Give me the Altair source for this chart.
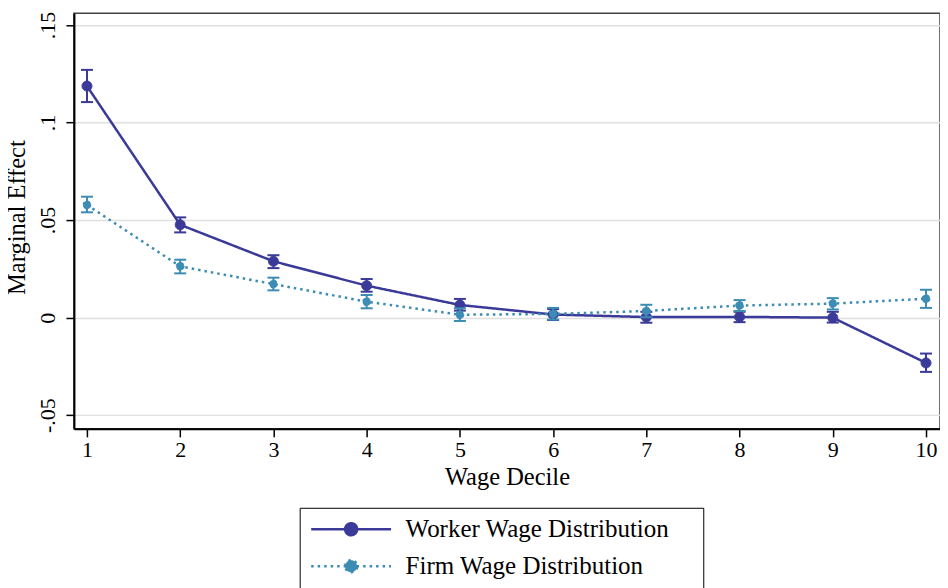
import altair as alt
import pandas as pd

deciles = [1, 2, 3, 4, 5, 6, 7, 8, 9, 10]
series_names = ["Worker Wage Distribution", "Firm Wage Distribution"]

worker_est = [0.1187, 0.0476, 0.0289, 0.0164, 0.0065, 0.0016, 0.0003, 0.0004, 0.0000, -0.0232]
worker_lo = [0.1105, 0.0437, 0.0254, 0.0133, 0.0036, -0.0012, -0.0026, -0.0023, -0.0025, -0.0278]
worker_hi = [0.1270, 0.0514, 0.0320, 0.0198, 0.0096, 0.0044, 0.0030, 0.0030, 0.0030, -0.0184]

firm_est = [0.0578, 0.0263, 0.0172, 0.0082, 0.0015, 0.0019, 0.0034, 0.0062, 0.0072, 0.0097]
firm_lo = [0.0540, 0.0227, 0.0140, 0.0048, -0.0017, -0.0010, 0.0002, 0.0034, 0.0042, 0.0050]
firm_hi = [0.0620, 0.0297, 0.0205, 0.0116, 0.0048, 0.0050, 0.0066, 0.0090, 0.0100, 0.0143]

y_ticks = [-0.05, 0, 0.05, 0.1, 0.15]

colors = ["#3b3a98", "#3d8cb4"]
dashes = [[1, 0], [2.5, 4]]
point_sizes = [100, 64]
FONT = "Liberation Serif"

rows = []
for i, d in enumerate(deciles):
    rows.append({"series": series_names[0], "decile": d,
                 "est": worker_est[i], "lo": worker_lo[i], "hi": worker_hi[i]})
for i, d in enumerate(deciles):
    rows.append({"series": series_names[1], "decile": d,
                 "est": firm_est[i], "lo": firm_lo[i], "hi": firm_hi[i]})
df = pd.DataFrame(rows)

x_scale = alt.Scale(domain=[0.86, 10.15], nice=False, zero=False)
y_scale = alt.Scale(domain=[-0.057, 0.156], nice=False, zero=False)

x_enc = alt.X("decile:Q", scale=x_scale,
              axis=alt.Axis(title="Wage Decile", values=deciles, format="d", grid=False,
                            tickSize=8, tickWidth=1.5, tickColor="black",
                            domainColor="black", domainWidth=2,
                            labelFont=FONT, labelFontSize=22, labelColor="black", labelPadding=3,
                            titleFont=FONT, titleFontSize=24.5, titleFontWeight="normal",
                            titleColor="black", titlePadding=5))
y_axis = alt.Axis(title="Marginal Effect", values=y_ticks,
                  labelExpr="datum.value == 0 ? '0' : replace(replace(format(datum.value, '.2~f'), '0.', '.'), '\u2212', '-')",
                  grid=True, gridColor="#e0e0e0", gridWidth=1.5,
                  tickSize=8, tickWidth=1.5, tickColor="black",
                  domainColor="black", domainWidth=2,
                  labelFont=FONT, labelFontSize=22, labelColor="black",
                  labelAngle=270, labelAlign="center", labelBaseline="bottom", labelPadding=6,
                  titleFont=FONT, titleFontSize=24.5, titleFontWeight="normal",
                  titleColor="black", titlePadding=7, titleY=204)

# symbol: 20px unit square (scale 10); line spans 80px, dot radius 6px
legend_path = "M-4,0L4,0M-0.6,0A0.6,0.6,0,1,1,0.6,0A0.6,0.6,0,1,1,-0.6,0Z"
leg = alt.Legend(title="\u00a0", titleOrient="right", titlePadding=25,
                 titleFont=FONT, titleFontSize=24,
                 orient="none", legendX=226, legendY=495,
                 symbolType=legend_path, symbolSize=400, symbolStrokeWidth=2.5,
                 symbolOffset=30, rowPadding=11, padding=9,
                 strokeColor="black", labelFont=FONT, labelFontSize=25, labelColor="black",
                 labelOffset=42, labelLimit=500)

stroke_enc = alt.Stroke("series:N", scale=alt.Scale(domain=series_names, range=colors), legend=leg)
fill_enc = alt.Fill("series:N", scale=alt.Scale(domain=series_names, range=colors), legend=leg)
dash_enc = alt.StrokeDash("series:N", scale=alt.Scale(domain=series_names, range=dashes), legend=leg)

base = alt.Chart(df)

layers = []
for k, name in enumerate(series_names):
    flt = alt.datum.series == name
    rules = base.mark_rule(strokeWidth=2, opacity=1).encode(
        x=x_enc, y=alt.Y("lo:Q", scale=y_scale, axis=y_axis), y2="hi:Q", stroke=stroke_enc,
    ).transform_filter(flt)
    cap_lo = base.mark_tick(orient="horizontal", size=12, thickness=2, opacity=1).encode(
        x="decile:Q", y="lo:Q", fill=fill_enc,
    ).transform_filter(flt)
    cap_hi = base.mark_tick(orient="horizontal", size=12, thickness=2, opacity=1).encode(
        x="decile:Q", y="hi:Q", fill=fill_enc,
    ).transform_filter(flt)
    line = base.mark_line(strokeWidth=2.5).encode(
        x="decile:Q", y="est:Q", stroke=stroke_enc, strokeDash=dash_enc, order="decile:Q",
    ).transform_filter(flt)
    pts = base.mark_point(filled=True, strokeWidth=1, opacity=1, size=point_sizes[k]).encode(
        x="decile:Q", y="est:Q", fill=fill_enc, stroke=stroke_enc, strokeDash=dash_enc,
    ).transform_filter(flt)
    layers += [rules, cap_lo, cap_hi, line, pts]

chart = alt.layer(*layers).properties(
    width=867, height=416,
    padding={"left": 66, "top": 5, "right": 0, "bottom": 160},
    autosize="none",
    background="white",
).configure(
    font=FONT
).configure_view(
    stroke="#444444", strokeWidth=1.5
).configure_legend(
    labelFont=FONT, labelFontSize=25, labelColor="black"
)

chart.save("out.html", embed_options={"renderer": "svg", "actions": False})
